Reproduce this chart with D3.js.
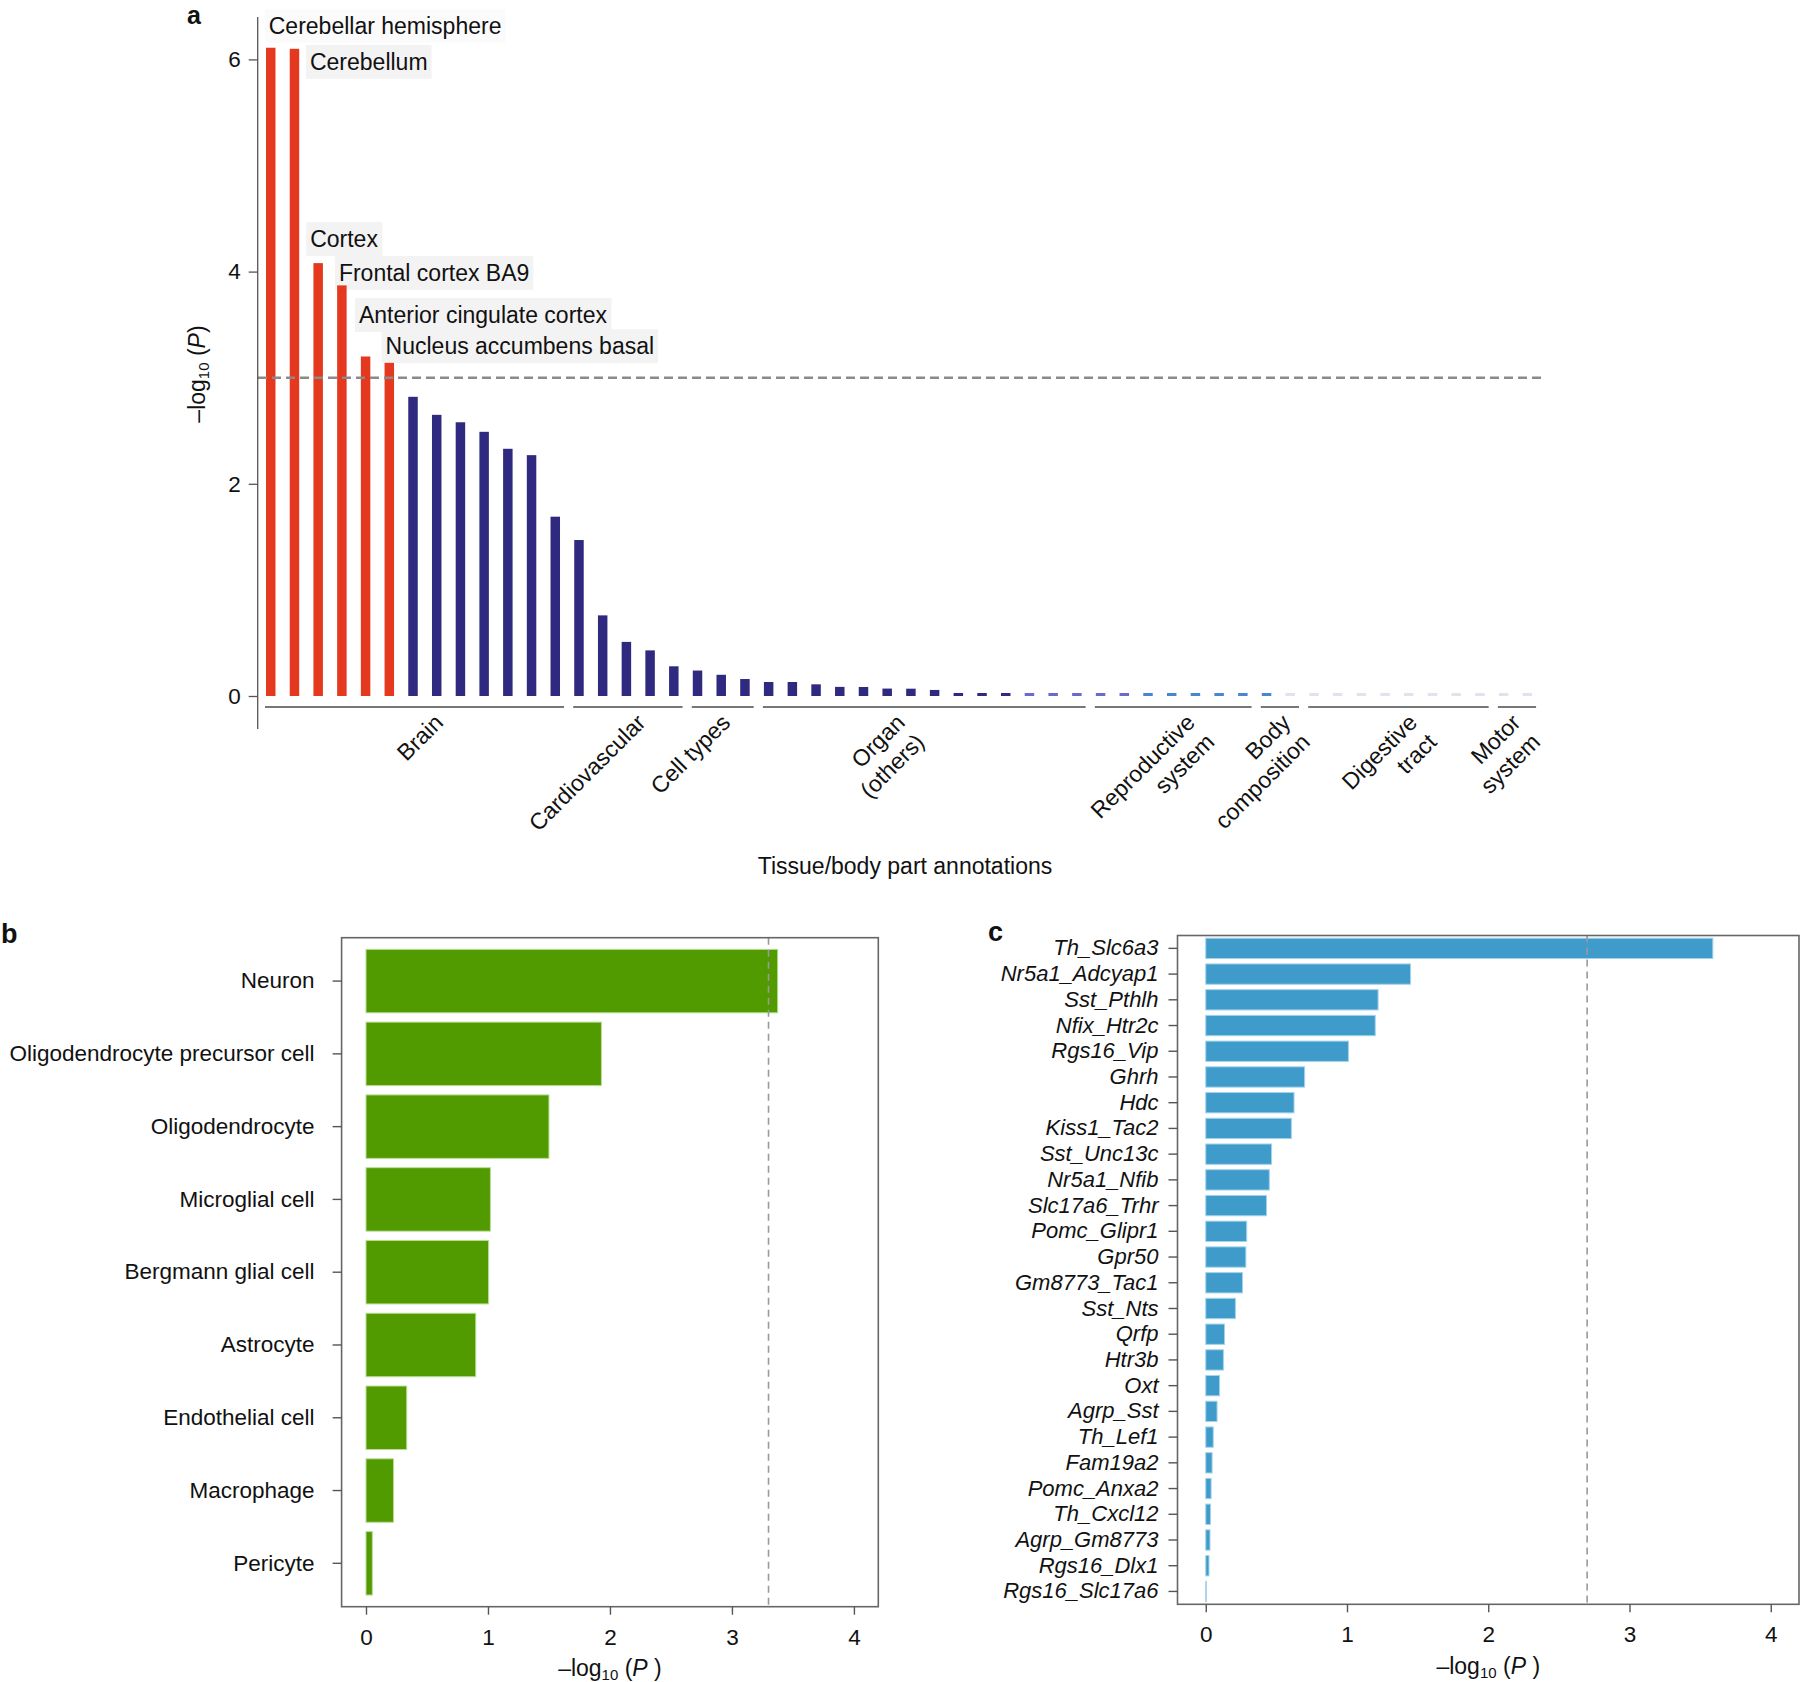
<!DOCTYPE html>
<html><head><meta charset="utf-8">
<script src="https://cdn.jsdelivr.net/npm/d3@7"></script>
<style>
body{margin:0;background:#fff;}
svg text{font-family:"Liberation Sans", Arial, Helvetica, sans-serif;fill:#111;}
</style>
</head><body>
<svg id="chart" width="1800" height="1682"></svg>
<script>
// ================= DATA =================
// Panel a: tissue/body part annotations (GTEx), -log10(P)
const tissueGroups = ["Brain","Cardiovascular","Cell types","Organ\n(others)","Reproductive\nsystem","Body\ncomposition","Digestive\ntract","Motor\nsystem"];
const tissueGroupSizes = [13,5,3,14,7,2,8,2];
const tissueValues = [6.11,6.10,4.08,3.87,3.20,3.14,2.82,2.65,2.58,2.49,2.33,2.27,1.69,
  1.47,0.76,0.51,0.43,0.28,
  0.24,0.20,0.16,
  0.132,0.132,0.11,0.086,0.085,0.07,0.069,0.057,0.028,0.027,0.027,0.020,0.020,0.019,
  0.019,0.018,0.016,0.015,0.015,0.014,0.013,
  0.012,0.009,
  0.008,0.008,0.007,0.006,0.006,0.005,0.004,0.003,
  0.002,0.001];
const topTissueLabels = ["Cerebellar hemisphere","Cerebellum","Cortex","Frontal cortex BA9","Anterior cingulate cortex","Nucleus accumbens basal"];
const tissueThreshold = 3;
const tissueTicks = [0,2,4,6];

// Panel b: brain cell types
const cellTypes = ["Neuron","Oligodendrocyte precursor cell","Oligodendrocyte","Microglial cell","Bergmann glial cell","Astrocyte","Endothelial cell","Macrophage","Pericyte"];
const cellValues = [3.375,1.93,1.50,1.02,1.005,0.90,0.334,0.226,0.052];
const cellThreshold = 3.30;

// Panel c: hypothalamic neuron types
const neuronTypes = ["Th_Slc6a3","Nr5a1_Adcyap1","Sst_Pthlh","Nfix_Htr2c","Rgs16_Vip","Ghrh","Hdc","Kiss1_Tac2","Sst_Unc13c","Nr5a1_Nfib","Slc17a6_Trhr","Pomc_Glipr1","Gpr50","Gm8773_Tac1","Sst_Nts","Qrfp","Htr3b","Oxt","Agrp_Sst","Th_Lef1","Fam19a2","Pomc_Anxa2","Th_Cxcl12","Agrp_Gm8773","Rgs16_Dlx1","Rgs16_Slc17a6"];
const neuronValues = [3.59,1.45,1.22,1.20,1.01,0.70,0.625,0.606,0.466,0.45,0.43,0.29,0.284,0.26,0.21,0.133,0.125,0.098,0.08,0.053,0.045,0.038,0.034,0.03,0.023,0.004];
const neuronThreshold = 2.70;
const hTicks = [0,1,2,3,4];

// ================= LAYOUT =================
const svg = d3.select("#chart");

// ---------- Panel a ----------
const A = {x0:258.9, x1:1539.2, y0:696, y6:59.4, axisX:257.7, lineY:707, labelY:724};
const xA = d3.scaleBand().domain(d3.range(tissueValues.length)).range([A.x0, A.x1]).paddingInner(0.6).paddingOuter(0.3);
const yA = d3.scaleLinear().domain([0,6]).range([A.y0, A.y6]);
const colA = d3.scaleThreshold().domain([0.011,0.017,0.022,tissueThreshold])
  .range(["#e2e2ee","#4886d2","#6b69cc","#2f2a80","#e4391f"]);
const gA = svg.append("g");

// annotation boxes layer (under bars)
const boxLayer = gA.append("g");

// bars
gA.append("g").selectAll("rect").data(tissueValues).join("rect")
  .attr("x",(d,i)=>xA(i))
  .attr("width",xA.bandwidth())
  .attr("y",d=>Math.min(yA(d), A.y0-3))
  .attr("height",d=>Math.max(A.y0-yA(d),3))
  .attr("fill",d=>colA(d));

// threshold dashed line
gA.append("line").attr("x1",258).attr("x2",1542)
  .attr("y1",yA(tissueThreshold)).attr("y2",yA(tissueThreshold))
  .attr("stroke","#8a8a8a").attr("stroke-width",2.6).attr("stroke-dasharray","9,5");

// y axis
const axA = gA.append("g").attr("transform",`translate(${A.axisX},0)`)
  .call(d3.axisLeft(yA).tickValues(tissueTicks).tickSize(9).tickPadding(8).tickFormat(d3.format("d")));
axA.select(".domain").remove();
axA.selectAll(".tick line").attr("stroke","#555").attr("stroke-width",1.3);
axA.selectAll(".tick text").attr("font-size",22.5).attr("fill","#111").style("font-family",'"Liberation Sans", Arial, sans-serif');
gA.append("line").attr("x1",A.axisX).attr("x2",A.axisX).attr("y1",yA(6.4)).attr("y2",yA(-0.31))
  .attr("stroke","#555").attr("stroke-width",1.3);

// y title
const yt = gA.append("text").attr("transform","translate(197,374) rotate(-90)")
  .attr("text-anchor","middle").attr("dominant-baseline","central").attr("font-size",23);
yt.append("tspan").text("\u2013log");
yt.append("tspan").text("10").attr("font-size",15).attr("dy",6);
yt.append("tspan").text(" (").attr("dy",-6);
yt.append("tspan").text("P").attr("font-style","italic");
yt.append("tspan").text(")");

// annotation labels for top tissues: [dx from bar centre, dy from bar top] (text centre)
const annoNudge = [[-2,-22],[15.5,13],[-8,-24],[-3,-12.5],[-6.6,-41.5],[-3.7,-16.6]];
const bwA = xA.bandwidth();
topTissueLabels.forEach((lab,i)=>{
  const cx = xA(i)+bwA/2 + annoNudge[i][0];
  const cy = yA(tissueValues[i]) + annoNudge[i][1];
  const t = gA.append("text").attr("x",cx).attr("y",cy).attr("dominant-baseline","central")
    .attr("font-size",23).text(lab);
  const bb = t.node().getBBox();
  boxLayer.append("rect").attr("x",bb.x-4).attr("y",cy-17).attr("width",bb.width+8).attr("height",34)
    .attr("fill", i===0 ? "#fbfbfb" : "#f3f3f3");
});

// group lines + rotated labels
const groupLabelDx = [30,19,9,-18,23,12,20,5];
let start = 0;
tissueGroups.forEach((g,k)=>{
  const first = start, last = start + tissueGroupSizes[k]-1;
  const lx1 = xA(first)-1, lx2 = xA(last)+bwA+4;
  gA.append("line").attr("x1",lx1).attr("x2",lx2).attr("y1",A.lineY).attr("y2",A.lineY)
    .attr("stroke","#777").attr("stroke-width",2);
  const cx = (lx1+lx2)/2 + groupLabelDx[k];
  const t = gA.append("text").attr("transform",`translate(${cx},${A.labelY}) rotate(-45)`)
    .attr("text-anchor","end").attr("font-size",23);
  g.split("\n").forEach((ln,j)=>{
    t.append("tspan").attr("x",0).attr("dy", j? "1.2em":0).text(ln);
  });
  start = last+1;
});

// x title
gA.append("text").attr("x",905).attr("y",866).attr("text-anchor","middle").attr("dominant-baseline","central")
  .attr("font-size",23).text("Tissue/body part annotations");

// panel letters
svg.append("text").attr("x",187).attr("y",24).attr("font-size",25).attr("font-weight","bold").text("a");
svg.append("text").attr("x",1).attr("y",943).attr("font-size",27).attr("font-weight","bold").text("b");
svg.append("text").attr("x",988).attr("y",941).attr("font-size",27).attr("font-weight","bold").text("c");

// ---------- horizontal bar panels ----------
function hPanel(cfg){
  const g = svg.append("g");
  const x = d3.scaleLinear().domain([-0.2,4.2]).range([cfg.left, cfg.right]);
  const y = d3.scaleBand().domain(cfg.cats).range([cfg.top, cfg.bottom])
    .paddingInner(cfg.pi).paddingOuter(cfg.po);
  // bars
  g.append("g").selectAll("rect").data(cfg.vals).join("rect")
    .attr("x",x(0)).attr("y",(d,i)=>y(cfg.cats[i]))
    .attr("width",d=>Math.max(x(d)-x(0),0.6)).attr("height",y.bandwidth())
    .attr("fill",cfg.fill).attr("stroke",cfg.stroke).attr("stroke-width",1);
  // threshold
  g.append("line").attr("x1",x(cfg.thr)).attr("x2",x(cfg.thr)).attr("y1",cfg.top).attr("y2",cfg.bottom)
    .attr("stroke","#9a9a9a").attr("stroke-width",1.6).attr("stroke-dasharray","7,5");
  // frame
  g.append("rect").attr("x",cfg.left).attr("y",cfg.top).attr("width",cfg.right-cfg.left).attr("height",cfg.bottom-cfg.top)
    .attr("fill","none").attr("stroke","#666").attr("stroke-width",1.6);
  // y axis
  const ay = g.append("g").attr("transform",`translate(${cfg.left},0)`)
    .call(d3.axisLeft(y).tickSize(9).tickPadding(cfg.ypad));
  ay.select(".domain").remove();
  ay.selectAll(".tick line").attr("stroke","#555").attr("stroke-width",1.4);
  ay.selectAll(".tick text").attr("font-size",cfg.yfs).attr("fill","#111")
    .style("font-style",cfg.italic?"italic":"normal")
    .style("font-family",'"Liberation Sans", Arial, sans-serif');
  // x axis
  const ax = g.append("g").attr("transform",`translate(0,${cfg.bottom})`)
    .call(d3.axisBottom(x).tickValues(hTicks).tickSize(8).tickPadding(14).tickFormat(d3.format("d")));
  ax.select(".domain").remove();
  ax.selectAll(".tick line").attr("stroke","#555").attr("stroke-width",1.4);
  ax.selectAll(".tick text").attr("font-size",22.5).attr("fill","#111")
    .style("font-family",'"Liberation Sans", Arial, sans-serif');
  // x title
  const t = g.append("text").attr("x",(cfg.left+cfg.right)/2).attr("y",cfg.titleY)
    .attr("text-anchor","middle").attr("dominant-baseline","central").attr("font-size",23);
  t.append("tspan").text("\u2013log");
  t.append("tspan").text("10").attr("font-size",15).attr("dy",6);
  t.append("tspan").text(" (").attr("dy",-6);
  t.append("tspan").text("P").attr("font-style","italic");
  t.append("tspan").text(" )");
}

hPanel({cats:cellTypes, vals:cellValues, thr:cellThreshold,
  left:341.6, right:878.3, top:937.7, bottom:1606.7, pi:0.128, po:0.16,
  fill:"#519a00", stroke:"#b9dd95", ypad:18, yfs:22.5, italic:false, titleY:1668});

hPanel({cats:neuronTypes, vals:neuronValues, thr:neuronThreshold,
  left:1177.5, right:1799, top:935.5, bottom:1604.3, pi:0.21, po:0.105,
  fill:"#3f9bc9", stroke:"#a3d3ec", ypad:10, yfs:22, italic:true, titleY:1666});
</script>
</body></html>
